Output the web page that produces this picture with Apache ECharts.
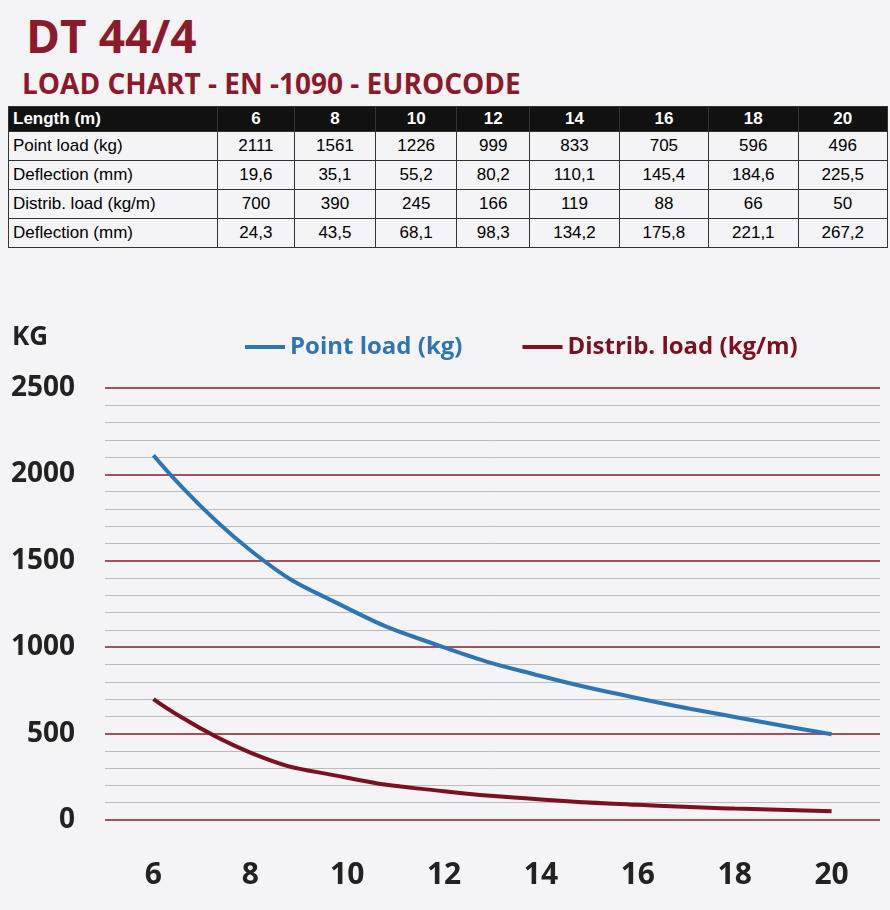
<!DOCTYPE html>
<html><head><meta charset="utf-8">
<script src="https://cdn.jsdelivr.net/npm/echarts@6/dist/echarts.min.js"></script>
<style>
body{margin:0;width:890px;height:910px;background:#f4f3f6;font-family:"Open Sans",sans-serif;overflow:hidden;position:relative}
#t1{position:absolute;left:26px;top:4px;font:bold 46px "Open Sans",sans-serif;color:#8b1a2b}
#t2{position:absolute;left:22px;top:64px;font:bold 28px "Open Sans",sans-serif;color:#8b1a2b}
table{position:absolute;left:8px;top:106px;border-collapse:collapse;font:17px "Liberation Sans",sans-serif;width:880px}
td{border:1px solid #333;padding:1px 4px;text-align:center;height:26px}
td:first-child{text-align:left;width:200px}
tr.h td{background:#111;color:#fff;font-weight:bold;height:22px}
#c{position:absolute;left:0;top:310px;width:890px;height:600px}
</style></head><body>
<div id="t1">DT 44/4</div>
<div id="t2">LOAD CHART - EN -1090 - EUROCODE</div>
<table id="tb"></table>
<div id="c"></div>
<script>
const lengths=[6,8,10,12,14,16,18,20];
const pointLoad=[2111,1561,1226,999,833,705,596,496];
const pointDefl=["19,6","35,1","55,2","80,2","110,1","145,4","184,6","225,5"];
const distLoad=[700,390,245,166,119,88,66,50];
const distDefl=["24,3","43,5","68,1","98,3","134,2","175,8","221,1","267,2"];
const rows=[["Length (m)",lengths],["Point load (kg)",pointLoad],["Deflection (mm)",pointDefl],["Distrib. load (kg/m)",distLoad],["Deflection (mm)",distDefl]];
document.getElementById('tb').innerHTML=rows.map((r,i)=>'<tr'+(i==0?' class="h"':'')+'><td>'+r[0]+'</td>'+r[1].map(v=>'<td>'+v+'</td>').join('')+'</tr>').join('');
const ch=echarts.init(document.getElementById('c'));
const red='#7b1020',blue='#2e75b6';
ch.setOption({
 graphic:[{type:'text',left:12,top:15,style:{text:'KG',font:'bold 26px "Open Sans"',fill:'#222'}}],
 legend:{top:20,left:240,itemGap:60,itemWidth:40,icon:'rect',itemHeight:4,
  data:[{name:'Point load (kg)',textStyle:{color:blue}},{name:'Distrib. load (kg/m)',textStyle:{color:red}}],
  textStyle:{fontSize:24,fontWeight:'bold',fontFamily:'Open Sans'}},
 grid:{left:105,right:10,top:78,bottom:90},
 xAxis:{type:'category',data:lengths.map(String),boundaryGap:true,axisLine:{show:false},axisTick:{show:false},splitLine:{show:false},
  axisLabel:{fontSize:30,fontWeight:'bold',color:'#222',margin:40,fontFamily:'Open Sans'}},
 yAxis:{type:'value',min:0,max:2500,interval:500,axisLine:{show:false},axisTick:{show:false},
  axisLabel:{fontSize:28,fontWeight:'bold',color:'#222',margin:30,fontFamily:'Open Sans',formatter:v=>String(v)},
  splitLine:{lineStyle:{color:'#8b1a2b',width:1.5}},
  minorTick:{show:false,splitNumber:5},minorSplitLine:{show:true,lineStyle:{color:'#bbb'}}},
 series:[
  {name:'Point load (kg)',type:'line',smooth:true,showSymbol:false,lineStyle:{color:blue,width:4},itemStyle:{color:blue},data:pointLoad},
  {name:'Distrib. load (kg/m)',type:'line',smooth:true,showSymbol:false,lineStyle:{color:red,width:4},itemStyle:{color:red},data:distLoad}
 ]
});
</script></body></html>
